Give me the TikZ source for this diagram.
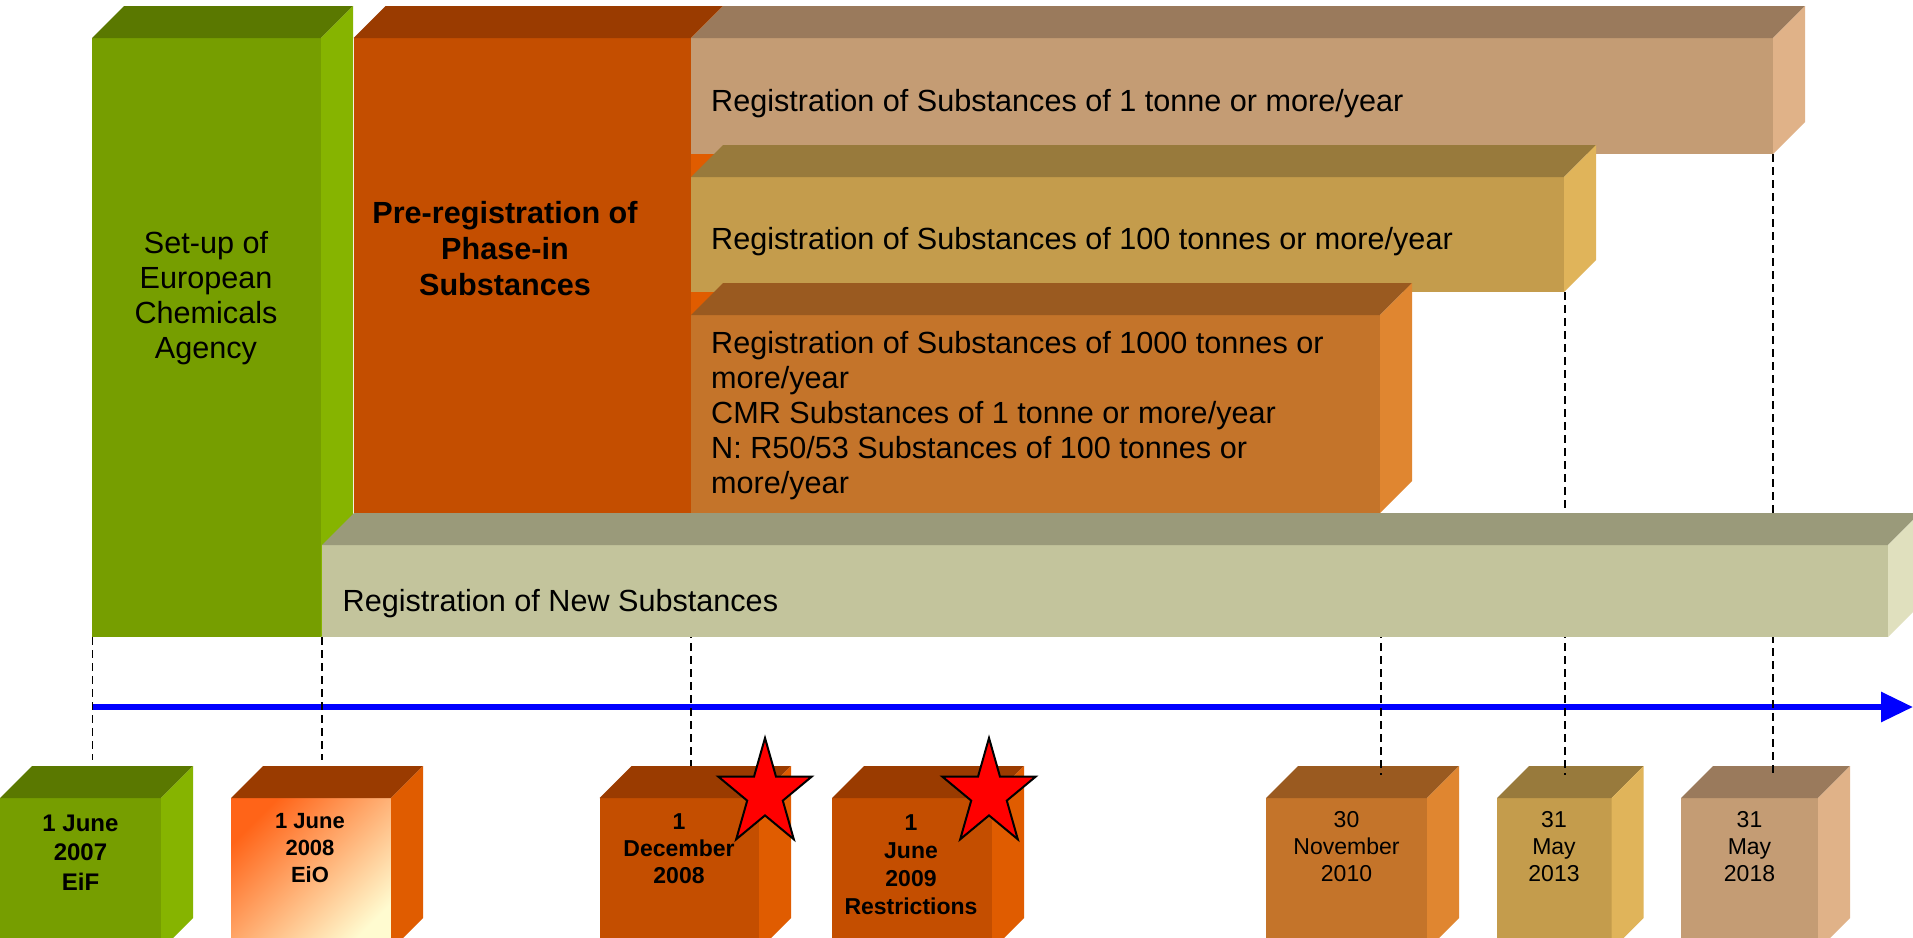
\documentclass[tikz,border=0pt]{standalone}
\usepackage{fontspec}
\setmainfont{Liberation Sans}
\usetikzlibrary{arrows.meta}
\definecolor{greenF}{HTML}{769E00}
\definecolor{greenT}{HTML}{5A7800}
\definecolor{greenS}{HTML}{86B400}
\definecolor{preF}{HTML}{C44E00}
\definecolor{preT}{HTML}{9A3B00}
\definecolor{preS}{HTML}{E05C00}
\definecolor{bonF}{HTML}{C49C74}
\definecolor{bonT}{HTML}{9A7A5C}
\definecolor{bonS}{HTML}{E0B288}
\definecolor{btwF}{HTML}{C49C4C}
\definecolor{btwT}{HTML}{987A3C}
\definecolor{btwS}{HTML}{E0B45A}
\definecolor{bthF}{HTML}{C4742A}
\definecolor{bthT}{HTML}{9A5A20}
\definecolor{bthS}{HTML}{E08630}
\definecolor{newF}{HTML}{C3C49C}
\definecolor{newT}{HTML}{9A9A7A}
\definecolor{newS}{HTML}{E0E0BE}
\definecolor{eioA}{HTML}{FF6418}
\definecolor{eioB}{HTML}{FFFBD0}
\definecolor{timeblue}{HTML}{0000FF}
\definecolor{starred}{HTML}{FF0000}
% 3D box: #1 x1, #2 y1 (front top-left), #3 x2, #4 y2 (front bottom-right), #5 front style, #6 top colour, #7 side colour
\newcommand{\cubeboxd}[7]{%
  \path[#5] (#1,#2) rectangle (#3,#4);
  \fill[#6] (#1,#2) -- (#1+32,#2-32) -- (#3+32,#2-32) -- (#3,#2) -- cycle;
  \fill[#7] (#3,#2) -- (#3+32,#2-32) -- (#3+32,#4-32) -- (#3,#4) -- cycle;}
\newcommand{\redstar}[1]{%
  \begin{scope}[shift={(#1)}, xscale=49, yscale=-56]
    \draw[fill=starred, line width=2pt, line join=miter]
      (0,1) -- (0.2245,0.309) -- (0.951,0.309) -- (0.3633,-0.118) -- (0.588,-0.809)
      -- (0,-0.382) -- (-0.588,-0.809) -- (-0.3633,-0.118) -- (-0.951,0.309)
      -- (-0.2245,0.309) -- cycle;
  \end{scope}}
\tikzset{
  bigtxt/.style={inner sep=0pt, font=\fontsize{30.6}{35}\selectfont},
  bartxt/.style={bigtxt, anchor=base west},
  datetxt/.style={inner sep=0pt, align=center, font=\fontsize{23}{27}\selectfont},
  vdash/.style={draw=black, line width=1.6pt, dash pattern=on 8pt off 5pt},
}
\begin{document}
\begin{tikzpicture}[x=1pt,y=-1pt]
\useasboundingbox (0,0) rectangle (1913,937);
\clip (0,0) rectangle (1913,937);
\fill[white] (0,0) rectangle (1913,937);

% upper boxes
\cubeboxd{353.5}{38}{691}{513}{fill=preF}{preT}{preS}
\cubeboxd{691}{38}{1773}{154}{fill=bonF}{bonT}{bonS}
\cubeboxd{691}{177}{1564}{292}{fill=btwF}{btwT}{btwS}
\cubeboxd{691}{315}{1380}{513}{fill=bthF}{bthT}{bthS}
\cubeboxd{92}{38}{321}{637}{fill=greenF}{greenT}{greenS}

% date boxes
\cubeboxd{0}{798}{161}{950}{fill=greenF}{greenT}{greenS}
\cubeboxd{231}{798}{391}{950}{top color=eioA, bottom color=eioB, shading angle=45}{preT}{preS}
\cubeboxd{599.5}{798}{759}{950}{fill=preF}{preT}{preS}
\cubeboxd{832}{798}{992}{950}{fill=preF}{preT}{preS}
\cubeboxd{1266}{798}{1427}{950}{fill=bthF}{bthT}{bthS}
\cubeboxd{1497}{798}{1611.5}{950}{fill=btwF}{btwT}{btwS}
\cubeboxd{1681}{798}{1818}{950}{fill=bonF}{bonT}{bonS}

% timeline
\coordinate (tlstart) at (92.5,707);
\coordinate (tlend) at (1913,707);
\draw[timeblue, line width=6pt, -{Triangle[length=32pt, width=29pt]}] (tlstart) -- (tlend);

% connector end points
\coordinate (eifA) at (92.5,637);   \coordinate (eifB) at (92.5,760);
\coordinate (eioA) at (322,637);    \coordinate (eioB) at (322,760);
\coordinate (decA) at (691,513);    \coordinate (decB) at (691,766);
\coordinate (novA) at (1381,513);   \coordinate (novB) at (1381,775);
\coordinate (mayA) at (1565,292);   \coordinate (mayB) at (1565,775);
\coordinate (eigA) at (1773,154);   \coordinate (eigB) at (1773,775);
\draw[vdash] (eifA) -- (eifB);
\draw[vdash] (eioA) -- (eioB);
\draw[vdash] (decA) -- (decB);
\draw[vdash] (novA) -- (novB);
\draw[vdash] (mayA) -- (mayB);
\draw[vdash, line width=2.4pt] (eigA) -- (eigB);

% new substances bar (in front)
\cubeboxd{322}{545}{1888}{637}{fill=newF}{newT}{newS}

% stars
\redstar{765,794}
\redstar{989,794}

% texts
\node[bigtxt, align=center] (setup) at (206,298) {Set-up of\\European\\Chemicals\\Agency};
\node[bigtxt, align=center, font=\fontsize{30.6}{36}\selectfont\bfseries] (prereg) at (505,249) {Pre-registration of\\Phase-in\\Substances};
\node[bartxt] (reg1) at (711,111) {Registration of Substances of 1 tonne or more/year};
\node[bartxt] (reg100) at (711,249) {Registration of Substances of 100 tonnes or more/year};
\node[bigtxt, align=left, anchor=west] (reg1000) at (711,416) {Registration of Substances of 1000 tonnes or\\more/year\\CMR Substances of 1 tonne or more/year\\N: R50/53 Substances of 100 tonnes or\\more/year};
\node[bartxt] (regnew) at (342.5,611.5) {Registration of New Substances};

\node[datetxt, font=\fontsize{24}{29.5}\selectfont\bfseries] (deif) at (80.5,852.5) {1 June\\2007\\EiF};
\node[datetxt, font=\fontsize{22}{27}\selectfont\bfseries] (deio) at (310,848.5) {1 June\\2008\\EiO};
\node[datetxt, font=\fontsize{23}{27}\selectfont\bfseries] (ddec) at (679,849) {1\\December\\2008};
\node[datetxt, font=\fontsize{23}{28}\selectfont\bfseries] (djun) at (911,865) {1\\June\\2009\\Restrictions};
\node[datetxt] (dnov) at (1346.5,846.5) {30\\November\\2010};
\node[datetxt] (dmay) at (1554,846.5) {31\\May\\2013};
\node[datetxt] (deig) at (1749.5,846.5) {31\\May\\2018};
\end{tikzpicture}
\end{document}
